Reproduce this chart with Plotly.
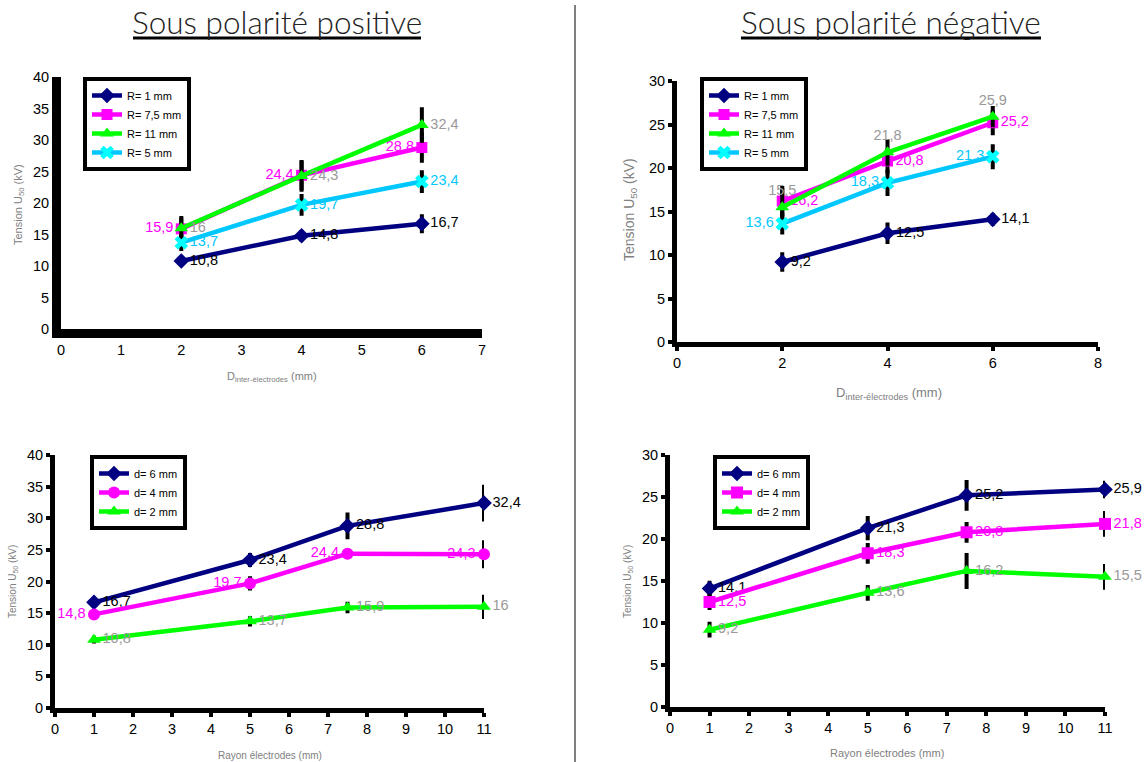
import plotly.graph_objects as go

# ---------------- data ----------------
dist = [2, 4, 6]
pos_R1 = [10.8, 14.8, 16.7]
pos_R75 = [15.9, 24.4, 28.8]
pos_R11 = [16.0, 24.3, 32.4]
pos_R5 = [13.7, 19.7, 23.4]
pos_R1_err = [0.4, 0.6, 1.2]
pos_R75_err = [1.5, 2.0, 2.1]
pos_R11_err = [1.6, 2.2, 2.5]
pos_R5_err = [1.0, 1.4, 1.5]

neg_R1 = [9.2, 12.5, 14.1]
neg_R75 = [16.2, 20.8, 25.2]
neg_R11 = [15.5, 21.8, 25.9]
neg_R5 = [13.6, 18.3, 21.3]
neg_R1_err = [0.9, 1.0, 0.5]
neg_R75_err = [1.5, 1.2, 1.2]
neg_R11_err = [2.0, 1.3, 1.0]
neg_R5_err = [1.0, 1.3, 1.2]

radius = [1, 5, 7.5, 11]
pos_d6 = [16.7, 23.4, 28.8, 32.4]
pos_d4 = [14.8, 19.7, 24.4, 24.3]
pos_d2 = [10.8, 13.7, 15.9, 16.0]
pos_d6_err = [0.4, 0.8, 1.8, 2.6]
pos_d4_err = [0.4, 0.8, 0.5, 1.9]
pos_d2_err = [0.3, 0.5, 0.6, 1.6]

neg_d6 = [14.1, 21.3, 25.2, 25.9]
neg_d4 = [12.5, 18.3, 20.8, 21.8]
neg_d2 = [9.2, 13.6, 16.2, 15.5]
neg_d6_err = [0.7, 1.2, 1.6, 0.8]
neg_d4_err = [0.7, 1.0, 1.0, 1.3]
neg_d2_err = [0.7, 0.7, 1.9, 1.3]

# ---------------- styles ----------------
NAVY, MAG, GREEN, SKY, CYAN = "#000080", "#FF00FF", "#00FF00", "#00C8FF", "#00FFFF"
GRAY_LBL = "#999999"
FONT = "Liberation Sans, Arial, sans-serif"


def fmt(v):
    return f"{v:g}".replace(".", ",")


fig = go.Figure()


def add(x, y, err, name, color, mcolor, symbol, msize, tcolor, tpos, xa, ya, leg):
    fig.add_trace(go.Scatter(
        x=x, y=y, name=name, mode="lines+markers+text",
        line=dict(color=color, width=4.5),
        marker=dict(symbol=symbol, size=msize, color=mcolor,
                    line=dict(width=0)),
        error_y=dict(type="data", array=err, color="black", thickness=4, width=2),
        text=[fmt(v) for v in y], textposition=tpos,
        textfont=dict(family=FONT, size=14.5, color=tcolor),
        xaxis=xa, yaxis=ya, legend=leg, cliponaxis=False,
    ))


R = "middle right"
L = "middle left"
T = "top center"

# top-left (positive, vs distance)
add(dist, pos_R1, pos_R1_err, "R= 1 mm", NAVY, NAVY, "diamond", 12, "black", [R, R, R], "x", "y", "legend")
add(dist, pos_R75, pos_R75_err, "R= 7,5 mm", MAG, MAG, "square", 11, MAG, [L, L, L], "x", "y", "legend")
add(dist, pos_R11, pos_R11_err, "R= 11 mm", GREEN, GREEN, "triangle-up", 12, GRAY_LBL, [R, R, R], "x", "y", "legend")
add(dist, pos_R5, pos_R5_err, "R= 5 mm", SKY, CYAN, "x", 12, SKY, [R, R, R], "x", "y", "legend")

# top-right (negative, vs distance)
add(dist, neg_R1, neg_R1_err, "R= 1 mm", NAVY, NAVY, "diamond", 12, "black", [R, R, R], "x2", "y2", "legend2")
add(dist, neg_R75, neg_R75_err, "R= 7,5 mm", MAG, MAG, "square", 11, MAG, [R, R, R], "x2", "y2", "legend2")
add(dist, neg_R11, neg_R11_err, "R= 11 mm", GREEN, GREEN, "triangle-up", 12, GRAY_LBL, [T, T, T], "x2", "y2", "legend2")
add(dist, neg_R5, neg_R5_err, "R= 5 mm", SKY, CYAN, "x", 12, SKY, [L, L, L], "x2", "y2", "legend2")

# bottom-left (positive, vs radius)
add(radius, pos_d6, pos_d6_err, "d= 6 mm", NAVY, NAVY, "diamond", 12, "black", [R, R, R, R], "x3", "y3", "legend3")
add(radius, pos_d4, pos_d4_err, "d= 4 mm", MAG, MAG, "circle", 12, MAG, [L, L, L, L], "x3", "y3", "legend3")
add(radius, pos_d2, pos_d2_err, "d= 2 mm", GREEN, GREEN, "triangle-up", 12, GRAY_LBL, [R, R, R, R], "x3", "y3", "legend3")

# bottom-right (negative, vs radius)
add(radius, neg_d6, neg_d6_err, "d= 6 mm", NAVY, NAVY, "diamond", 12, "black", [R, R, R, R], "x4", "y4", "legend4")
add(radius, neg_d4, neg_d4_err, "d= 4 mm", MAG, MAG, "square", 12, MAG, [R, R, R, R], "x4", "y4", "legend4")
add(radius, neg_d2, neg_d2_err, "d= 2 mm", GREEN, GREEN, "triangle-up", 12, GRAY_LBL, [R, R, R, R], "x4", "y4", "legend4")

W, H = 1148, 762


def px(v):
    return v / W


def py(v):
    return 1 - v / H


def axis(dom, rng, dtick, lw, ticks, anchor):
    return dict(domain=dom, range=rng, dtick=dtick, showgrid=False, zeroline=False,
                showline=True, linecolor="black", linewidth=lw, mirror=False,
                automargin=False,
                ticks=ticks, ticklen=4, tickwidth=4, tickcolor="black",
                tickfont=dict(family=FONT, size=14.5, color="black"), anchor=anchor)


layout = dict(
    template=go.layout.Template(),
    width=W, height=H, margin=dict(l=0, r=0, t=0, b=0, autoexpand=False),
    plot_bgcolor="white", paper_bgcolor="white",
    xaxis=axis([px(61), px(482)], [0, 7], 1, 9, "", "y"),
    yaxis=axis([py(329), py(77)], [0, 40], 5, 9, "", "x"),
    xaxis2=axis([px(677), px(1098)], [0, 8], 2, 5, "outside", "y2"),
    yaxis2=axis([py(342), py(81)], [0, 30], 5, 5, "outside", "x2"),
    xaxis3=axis([px(55), px(484)], [0, 11], 1, 5, "outside", "y3"),
    yaxis3=axis([py(708), py(455)], [0, 40], 5, 5, "outside", "x3"),
    xaxis4=axis([px(670), px(1105)], [0, 11], 1, 5, "outside", "y4"),
    yaxis4=axis([py(707), py(455)], [0, 30], 5, 5, "outside", "x4"),
)


def legend(x, y):
    return dict(x=px(x), y=py(y), xanchor="left", yanchor="top", bgcolor="white",
                bordercolor="black", borderwidth=4, itemwidth=30, tracegroupgap=0,
                font=dict(family=FONT, size=11, color="black"))


layout["legend"] = legend(83, 77)
layout["legend2"] = legend(700, 77)
layout["legend3"] = legend(90, 455)
layout["legend4"] = legend(713, 455)
fig.update_layout(**layout)

GRAY = "#808080"
TFONT = dict(family="Lato", size=31.5, color="#222222", weight=300)
ann = [
    dict(text="Sous polarité positive", x=px(277), y=py(22), font=TFONT),
    dict(text="Sous polarité négative", x=px(891), y=py(22), font=TFONT),
    dict(text="Tension U<sub>50</sub> (kV)", x=px(19), y=py(205), textangle=-90, font=dict(family=FONT, size=11, color=GRAY)),
    dict(text="Tension U<sub>50</sub> (kV)", x=px(630), y=py(210), textangle=-90, font=dict(family=FONT, size=14, color=GRAY)),
    dict(text="Tension U<sub>50</sub> (kV)", x=px(13), y=py(582), textangle=-90, font=dict(family=FONT, size=10, color=GRAY)),
    dict(text="Tension U<sub>50</sub> (kV)", x=px(628), y=py(581), textangle=-90, font=dict(family=FONT, size=10, color=GRAY)),
    dict(text="D<sub>inter-électrodes</sub> (mm)", x=px(272), y=py(377), font=dict(family=FONT, size=11, color=GRAY)),
    dict(text="D<sub>inter-électrodes</sub> (mm)", x=px(889), y=py(393), font=dict(family=FONT, size=13, color=GRAY)),
    dict(text="Rayon électrodes (mm)", x=px(270), y=py(755), font=dict(family=FONT, size=10, color=GRAY)),
    dict(text="Rayon électrodes (mm)", x=px(887), y=py(753), font=dict(family=FONT, size=11, color=GRAY)),
]
for a in ann:
    a.update(xref="paper", yref="paper", showarrow=False, xanchor="center", yanchor="middle")
fig.update_layout(annotations=ann)

fig.update_layout(shapes=[
    dict(type="line", xref="paper", yref="paper", x0=px(575), x1=px(575), y0=py(5), y1=py(762),
         line=dict(color="black", width=1)),
    dict(type="line", xref="paper", yref="paper", x0=px(133), x1=px(421), y0=py(38), y1=py(38),
         line=dict(color="black", width=3)),
    dict(type="line", xref="paper", yref="paper", x0=px(741), x1=px(1041), y0=py(38), y1=py(38),
         line=dict(color="black", width=3)),
])

fig.write_html("out.html", config={"displayModeBar": False},
               post_script="document.body.style.margin='0px';document.body.style.overflow='hidden';")
